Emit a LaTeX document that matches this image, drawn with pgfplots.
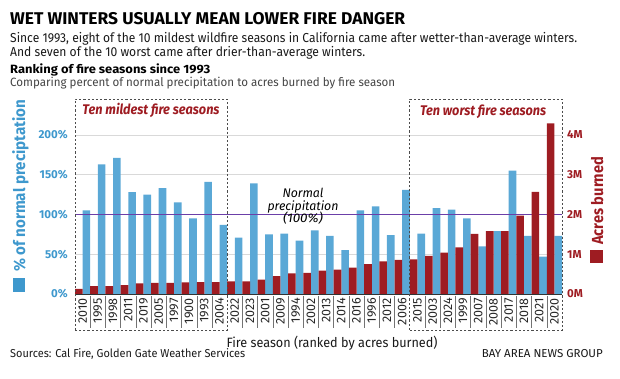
\documentclass[border=0pt]{standalone}
\usepackage{pgfplots}
\pgfplotsset{compat=1.18}
\usepackage{pgfplotstable}
\usepackage{graphicx}
\usepackage{fontspec}
\setmainfont{Fira Sans}

\definecolor{barblue}{HTML}{5AA8D6}
\definecolor{barred}{HTML}{9E1C22}
\definecolor{tickblue}{HTML}{3E98CD}
\definecolor{linepurple}{HTML}{6B3FA8}
\definecolor{subgray}{HTML}{444444}

\newcommand{\fitw}[2]{\resizebox{#1}{\height}{#2}}
\newcommand{\fs}[1]{\fontsize{#1}{#1}\selectfont}

\pgfplotstableread{
idx year precip acres
0  2010 105 0.13
1  1995 163 0.20
2  1998 171 0.20
3  2011 128 0.22
4  2019 125 0.27
5  2005 133 0.28
6  1997 115 0.28
7  1900 95  0.29
8  1993 141 0.30
9  2004 87  0.30
10 2022 71  0.32
11 2023 139 0.32
12 2001 75  0.36
13 2009 76  0.45
14 1994 67  0.52
15 2002 80  0.53
16 2013 73  0.59
17 2014 55  0.61
18 2016 105 0.66
19 1996 110 0.75
20 2012 74  0.82
21 2006 131 0.86
22 2015 76  0.87
23 2003 108 0.96
24 2024 106 1.04
25 1999 95  1.17
26 2007 60  1.51
27 2008 79  1.58
28 2017 155 1.58
29 2018 73  1.97
30 2021 47  2.57
31 2020 73  4.29
}\data

\begin{document}
\begin{tikzpicture}
\useasboundingbox (0,0) rectangle (620bp,379bp);

% left axis: precipitation
\begin{axis}[
  at={(75bp,85bp)}, anchor=south west,
  scale only axis, width=487bp, height=183bp,
  xmin=-0.5, xmax=31.5, ymin=0, ymax=230,
  axis line style={draw=none},
  major tick length=0pt,
  xtick={0,...,31},
  xticklabels from table={\data}{year},
  xticklabel style={rotate=90, anchor=east, inner sep=0pt, text=black!85, font=\fs{12.5bp}},
  xticklabel shift=4bp,
  ytick={0,50,100,150,200},
  yticklabels={0\%,50\%,100\%,150\%,200\%},
  yticklabel style={anchor=east, inner sep=0pt, text=tickblue, font=\bfseries\fs{11.5bp}},
  yticklabel shift=7bp,
  ymajorgrids, grid style={black!15, line width=0.6bp},
  ytick pos=left, xtick pos=bottom,
  clip=false,
]
\addplot[ybar, bar width=0.5, bar shift=0.25, fill=barblue, draw=none] table[x=idx, y=precip]{\data};
\draw[linepurple, line width=1.1bp] (axis cs:-0.5,100) -- (axis cs:31.5,100);
\end{axis}

% right axis: acres burned
\begin{axis}[
  at={(75bp,85bp)}, anchor=south west,
  scale only axis, width=487bp, height=183bp,
  xmin=-0.5, xmax=31.5, ymin=0, ymax=4.6,
  axis line style={draw=none},
  major tick length=0pt,
  xtick=\empty,
  ytick={0,1,2,3,4},
  yticklabels={0M,1M,2M,3M,4M},
  yticklabel style={anchor=west, inner sep=0pt, text=barred, font=\bfseries\fs{11.5bp}},
  yticklabel shift=5bp,
  ytick pos=right,
  clip=false,
]
\addplot[ybar, bar width=0.5, bar shift=-0.25, fill=barred, draw=none] table[x=idx, y=acres]{\data};
\draw[black!80, line width=0.8bp] (axis cs:-0.5,0) -- (axis cs:31.5,0);
\end{axis}

% separators between year labels
\foreach \j in {1,...,9,11,12,...,21,23,24,...,31}
  \draw[black!55, line width=0.5bp] ({75bp+\j*15.21875bp},83bp) -- ++(0,-32bp);

% dashed boxes
\draw[black!70, line width=0.7bp, dash pattern=on 2.2bp off 2bp] (75bp,49bp) rectangle (227.2bp,280bp);
\draw[black!70, line width=0.7bp, dash pattern=on 2.2bp off 2bp] (409.8bp,49bp) rectangle (562bp,280bp);

\node[anchor=base, inner sep=0pt, text=barred] at (151bp,264bp) {\fitw{137bp}{\bfseries\itshape\fs{14bp}Ten mildest fire seasons}};
\node[anchor=base, inner sep=0pt, text=barred] at (483bp,263bp) {\fitw{126bp}{\bfseries\itshape\fs{14bp}Ten worst fire seasons}};

% normal precipitation note
\node[anchor=base, inner sep=0pt] at (303bp,181bp) {\fitw{41bp}{\itshape\fs{12.5bp}Normal}};
\node[anchor=base, inner sep=0pt] at (303bp,168bp) {\fitw{71bp}{\itshape\fs{12.5bp}precipitation}};
\node[anchor=base, inner sep=0pt] at (303bp,156bp) {\fitw{40bp}{\itshape\fs{12.5bp}(100\%)}};

% axis titles
\node[rotate=90, anchor=base west, inner sep=0pt, text=tickblue] at (25bp,87bp)
  {\rule{14bp}{12bp}\hspace{6bp}\fitw{172bp}{\bfseries\fs{16bp}\% of normal preciptation}};
\node[rotate=90, anchor=base west, inner sep=0pt, text=barred] at (603bp,116bp)
  {\rule{13bp}{13bp}\hspace{5bp}\fitw{88bp}{\bfseries\fs{16bp}Acres burned}};

% titles
\node[anchor=base west, inner sep=0pt] at (10bp,354bp) {\fitw{395bp}{\bfseries\fs{17bp}WET WINTERS USUALLY MEAN LOWER FIRE DANGER}};
\node[anchor=base west, inner sep=0pt, text=black!90] at (10bp,336bp) {\fitw{567bp}{\fs{13bp}Since 1993, eight of the 10 mildest wildfire seasons in California came after wetter-than-average winters.}};
\node[anchor=base west, inner sep=0pt, text=black!90] at (10bp,322bp) {\fitw{355bp}{\fs{13bp}And seven of the 10 worst came after drier-than-average winters.}};
\node[anchor=base west, inner sep=0pt] at (10bp,305bp) {\fitw{200bp}{\bfseries\fs{12bp}Ranking of fire seasons since 1993}};
\node[anchor=base west, inner sep=0pt, text=subgray] at (10bp,292bp) {\fitw{385bp}{\fs{12bp}Comparing percent of normal precipitation to acres burned by fire season}};

% bottom texts
\node[anchor=base, inner sep=0pt, text=black!90] at (332bp,32bp) {\fitw{211bp}{\fs{13.5bp}Fire season (ranked by acres burned)}};
\node[anchor=base west, inner sep=0pt, text=black!90] at (10bp,21bp) {\fitw{235bp}{\fs{11.5bp}Sources: Cal Fire, Golden Gate Weather Services}};
\node[anchor=base east, inner sep=0pt, text=black!90] at (603bp,21bp) {\fitw{121bp}{\fs{11.5bp}BAY AREA NEWS GROUP}};
\end{tikzpicture}
\end{document}
